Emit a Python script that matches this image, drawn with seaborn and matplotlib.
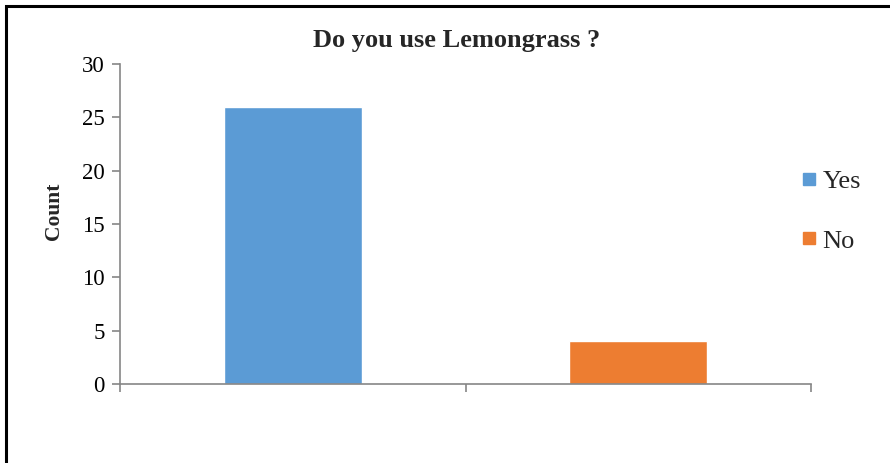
import matplotlib
matplotlib.use("Agg")
import matplotlib.pyplot as plt
import seaborn as sns
import pandas as pd
from matplotlib.lines import Line2D
from matplotlib.patches import Rectangle

categories = ["Yes", "No"]
counts = [26, 4]
colors = ["#5B9BD5", "#ED7D31"]
y_ticks = [0, 5, 10, 15, 20, 25, 30]

sns.set_style("ticks")
plt.rcParams["font.family"] = ["Liberation Serif", "DejaVu Serif"]

df = pd.DataFrame({"answer": categories, "count": counts})

W, H = 890, 463
fig = plt.figure(figsize=(W / 100, H / 100), dpi=100)
ax = fig.add_axes([120 / W, 1 - 384 / H, (811 - 120) / W, (384 - 64) / H])

sns.barplot(data=df, x="answer", y="count", hue="answer", palette=colors,
            width=0.4, legend=False, ax=ax, saturation=1)

axis_gray = "#868686"
ax.set_xlim(-0.5, 1.5)
ax.set_ylim(0, 30)
ax.set_yticks(y_ticks)
ax.set_yticklabels([str(v) for v in y_ticks], fontsize=16.5)
ax.set_xticks([-0.5, 0.5, 1.5])
ax.set_xticklabels(["", "", ""])
ax.tick_params(axis="both", direction="out", length=6, width=1.2, color=axis_gray)
ax.tick_params(axis="y", pad=5, labelcolor="black")
for s in ["top", "right"]:
    ax.spines[s].set_visible(False)
for s in ["left", "bottom"]:
    ax.spines[s].set_color(axis_gray)
    ax.spines[s].set_linewidth(1.2)

ax.set_xlabel("")
ax.set_ylabel("")
fig.text(54 / W, 1 - 211 / H, "Count", rotation=90, fontsize=15.5,
         fontweight="bold", ha="center", va="center")
fig.text(457 / W, 1 - 40 / H, "Do you use Lemongrass ?", fontsize=19,
         fontweight="bold", ha="center", va="center")

handles = [Line2D([0], [0], marker="s", linestyle="none", markersize=8.6,
                  markerfacecolor=c, markeredgecolor=c) for c in colors]
fig.legend(handles, categories, loc="center left",
           bbox_to_anchor=(802 / W, 1 - 211 / H), frameon=False,
           fontsize=19, labelspacing=1.38, handletextpad=0.27, handlelength=0.5,
           borderaxespad=0, borderpad=0)

fig.patches.append(Rectangle((6 / W, -0.1), 1.2, 1 - 6 / H + 0.1,
                             transform=fig.transFigure, fill=False,
                             edgecolor="black", linewidth=2.2))

fig.savefig("out.png", dpi=100, facecolor="white")
